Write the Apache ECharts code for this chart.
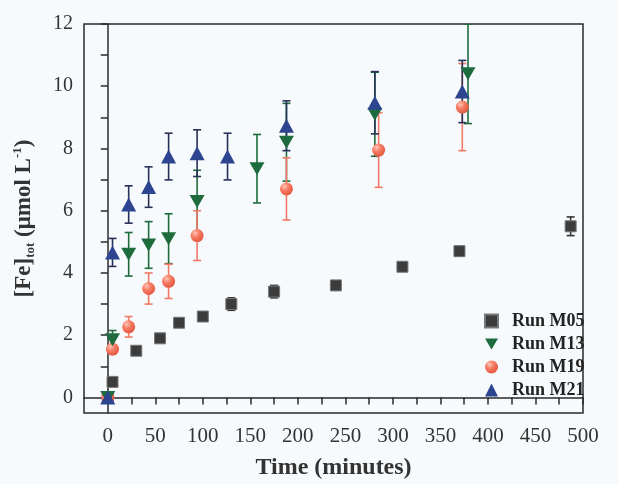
<!DOCTYPE html>
<html>
<head>
<meta charset="utf-8">
<script src="https://cdn.jsdelivr.net/npm/echarts@6/dist/echarts.min.js"></script>
<style>
  html, body { margin: 0; padding: 0; background: #f7fafc; }
  #chart { width: 618px; height: 484px; }
</style>
</head>
<body>
<div id="chart"></div>
<script>
// Run M05
const m05Time = [0, 5, 30, 55, 75, 100, 130, 175, 240, 310, 370, 487];
const m05Fe   = [0, 0.5, 1.5, 1.9, 2.4, 2.6, 3.0, 3.4, 3.6, 4.2, 4.7, 5.5];
const m05Err  = [0, 0.1, 0, 0, 0, 0, 0.2, 0.2, 0, 0, 0.15, 0.3];
// Run M13
const m13Time = [0, 5, 22, 43, 64, 94, 157, 188, 281, 379];
const m13Fe   = [0, 1.85, 4.6, 4.9, 5.1, 6.3, 7.35, 8.2, 9.1, 10.4];
const m13Err  = [0, 0.3, 0.7, 0.75, 0.8, 1.0, 1.1, 1.25, 1.35, 1.6];
// Run M19
const m19Time = [0, 5, 22, 43, 64, 94, 188, 285, 373];
const m19Fe   = [0, 1.55, 2.27, 3.5, 3.73, 5.2, 6.7, 7.95, 9.33];
const m19Err  = [0, 0.15, 0.33, 0.5, 0.55, 0.8, 1.0, 1.2, 1.4];
// Run M21
const m21Time = [0, 5, 22, 43, 64, 94, 126, 188, 281, 373];
const m21Fe   = [0, 4.66, 6.2, 6.76, 7.74, 7.85, 7.74, 8.73, 9.47, 9.83];
const m21Err  = [0, 0.45, 0.6, 0.65, 0.75, 0.75, 0.75, 0.8, 1.0, 1.0];

const xTicks = [0,25,50,75,100,125,150,175,200,225,250,275,300,325,350,375,400,425,450,475,500];
const xLabels = [0,50,100,150,200,250,300,350,400,450,500];
const yTicks = [0,1,2,3,4,5,6,7,8,9,10,11,12];
const yLabels = [0,2,4,6,8,10,12];

const serif = '"Liberation Serif", "DejaVu Serif", serif';
const downTri = 'path://M0,0L20,0L10,17Z';

const zip = (t, v, e) => t.map((x, i) => [x, v[i], e[i]]);

// error bars with caps, drawn through the axes
function errBars(id, t, v, e, color) {
    return {
        type: 'custom',
        name: id,
        data: zip(t, v, e).filter(d => d[2] > 0),
        clip: true,
        silent: true,
        itemStyle: { color: color },
        z: 2,
        renderItem: (params, api) => {
            let x = api.value(0), y = api.value(1), err = api.value(2);
            let top = api.coord([x, y + err]);
            let bot = api.coord([x, y - err]);
            let w = 4;
            let st = { stroke: color, lineWidth: 1.6 };
            return {
                type: 'group',
                children: [
                    { type: 'line', shape: { x1: top[0], y1: top[1], x2: bot[0], y2: bot[1] }, style: st },
                    { type: 'line', shape: { x1: top[0] - w, y1: top[1], x2: top[0] + w, y2: top[1] }, style: st },
                    { type: 'line', shape: { x1: bot[0] - w, y1: bot[1], x2: bot[0] + w, y2: bot[1] }, style: st }
                ]
            };
        }
    };
}

const redBall = new echarts.graphic.RadialGradient(0.35, 0.3, 0.75, [
    { offset: 0, color: '#ffc4b4' },
    { offset: 0.45, color: '#f57a62' },
    { offset: 1, color: '#e4553e' }
]);

let myChart = echarts.init(document.getElementById('chart'));
let option = {
    backgroundColor: '#f7fafc',
    animation: false,
    grid: {
        left: 84, right: 35, top: 24, bottom: 71,
        outerBoundsMode: 'none',
        containLabel: false,
        show: true, borderColor: '#2a2a2a', borderWidth: 1.5
    },
    legend: {
        orient: 'vertical',
        left: 479,
        top: 306,
        itemGap: 3,
        itemWidth: 13,
        itemHeight: 13,
        textStyle: {
            fontFamily: serif, fontWeight: 'bold', fontSize: 18, color: '#222',
            lineHeight: 20, padding: [0, 0, 0, 9]
        },
        data: ['Run M05', 'Run M13', 'Run M19', 'Run M21']
    },
    xAxis: {
        type: 'value',
        min: -25, max: 500,
        name: 'Time (minutes)',
        nameLocation: 'middle',
        nameGap: 43,
        nameTextStyle: { fontFamily: serif, fontWeight: 'bold', fontSize: 24, color: '#333' },
        axisLine: { show: true, lineStyle: { color: '#2a2a2a', width: 1.5 } },
        axisTick: { show: true, inside: false, length: 7, customValues: xTicks, lineStyle: { color: '#2a2a2a', width: 1.5 } },
        axisLabel: { customValues: xLabels, fontFamily: serif, fontSize: 21, color: '#333', margin: 13 },
        splitLine: { show: false }
    },
    yAxis: {
        type: 'value',
        min: -0.5, max: 12,
        name: '{b|[Fe]}{s|tot}{b| (μmol L}{p|-1}{b|)}',
        nameLocation: 'middle',
        nameGap: 46,
        nameTextStyle: {
            color: '#333',
            rich: {
                b: { fontFamily: serif, fontWeight: 'bold', fontSize: 23, color: '#333', lineHeight: 28 },
                s: { fontFamily: serif, fontWeight: 'bold', fontSize: 13, color: '#333', padding: [13, 0, 0, 0] },
                p: { fontFamily: serif, fontWeight: 'bold', fontSize: 13, color: '#333', padding: [0, 0, 13, 0] }
            }
        },
        axisLine: { show: true, lineStyle: { color: '#2a2a2a', width: 1.5 } },
        axisTick: { show: true, inside: false, length: 7, customValues: yTicks, lineStyle: { color: '#2a2a2a', width: 1.5 } },
        axisLabel: { customValues: yLabels, fontFamily: serif, fontSize: 20, color: '#333', margin: 11 },
        splitLine: { show: false }
    },
    series: [
        {
            type: 'scatter', name: 'Run M05',
            symbol: 'rect', symbolSize: 11,
            itemStyle: { color: '#3c3c3c', borderColor: '#777', borderWidth: 1, opacity: 1 },
            data: zip(m05Time, m05Fe, m05Err), z: 3
        },
        {
            type: 'scatter', name: 'Run M13',
            symbol: downTri, symbolSize: [15, 13],
            itemStyle: { color: '#1e6b3e', opacity: 1 },
            data: zip(m13Time, m13Fe, m13Err), z: 4
        },
        {
            type: 'scatter', name: 'Run M19',
            symbol: 'circle', symbolSize: 13,
            itemStyle: { color: redBall, opacity: 1 },
            data: zip(m19Time, m19Fe, m19Err), z: 3
        },
        {
            type: 'scatter', name: 'Run M21',
            symbol: 'triangle', symbolSize: [15, 14],
            itemStyle: { color: '#2d4590', opacity: 1 },
            data: zip(m21Time, m21Fe, m21Err), z: 5
        },
        errBars('M05 err', m05Time, m05Fe, m05Err, '#333333'),
        errBars('M13 err', m13Time, m13Fe, m13Err, '#1e6b3e'),
        errBars('M19 err', m19Time, m19Fe, m19Err, '#f07a66'),
        errBars('M21 err', m21Time, m21Fe, m21Err, '#283058')
    ]
};
myChart.setOption(option);
</script>
</body>
</html>
